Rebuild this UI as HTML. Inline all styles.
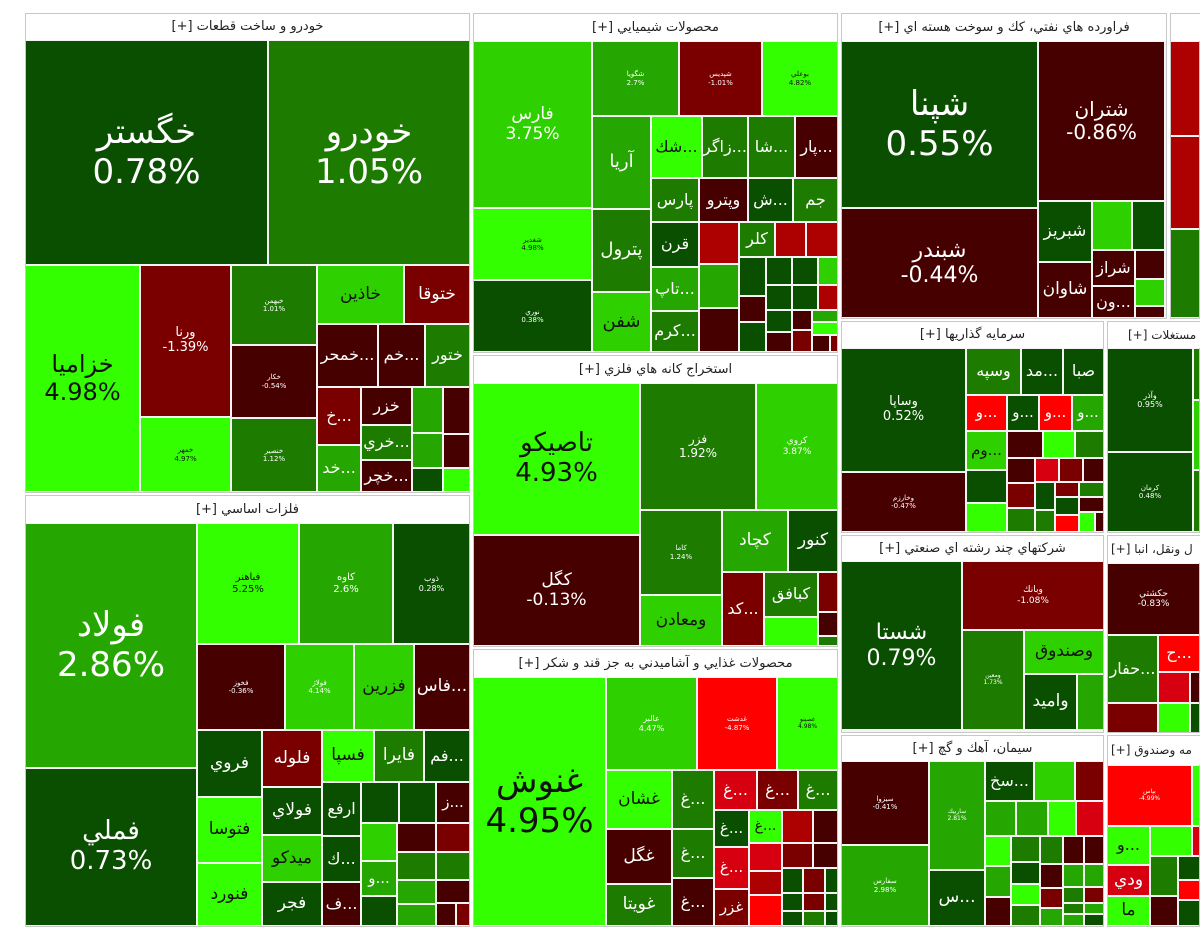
<!DOCTYPE html>
<html><head><meta charset="utf-8">
<style>
html,body{margin:0;padding:0;background:#fff;}
body{width:1200px;height:948px;position:relative;overflow:hidden;font-family:"DejaVu Sans","Liberation Sans","Noto Sans CJK SC",sans-serif;}
#root{position:absolute;left:0;top:0;width:1200px;height:948px;overflow:hidden;}
.sec{position:absolute;background:#f4f4f4;border:1px solid #c8c8c8;box-sizing:border-box;overflow:hidden;}
.hdr{position:absolute;background:#fff;font-size:13px;color:#222;direction:rtl;white-space:nowrap;overflow:hidden;box-sizing:border-box;line-height:26px;}
.cell{position:absolute;overflow:hidden;display:flex;flex-direction:column;align-items:center;justify-content:center;text-align:center;white-space:nowrap;}
.cell span{display:block;direction:ltr;}
</style></head>
<body>
<div id="root"></div>
<script>
// ---- sector data ----
const sectorNames = ["خودرو و ساخت قطعات [+]","محصولات شيميايي [+]","فراورده هاي نفتي، كك و سوخت هسته اي [+]","","فلزات اساسي [+]","استخراج كانه هاي فلزي [+]","محصولات غذايي و آشاميدني به جز قند و شكر [+]","سرمايه گذاريها [+]","مستغلات [+]","شركتهاي چند رشته اي صنعتي [+]","ل ونقل، انبا [+]","سيمان، آهك و گچ [+]","مه وصندوق [+]"];
const sectorFrames = [[25,13,470,492],[473,13,838,352],[841,13,1167,318],[1170,13,1200,318],[25,495,470,926],[473,355,838,646],[473,649,838,926],[841,321,1104,532],[1107,321,1200,532],[841,535,1104,732],[1107,535,1200,732],[841,735,1104,926],[1107,735,1200,926]];
const headerHeights = [27,28,28,28,28,28,28,27,27,26,28,26,30];
const headerPadLeft = [0,0,0,0,0,0,0,0,20,0,3,0,3];

// ---- stock data (names, changes) + layout (boxes, label styles) ----
const tickers = [];
const changes = [];
const boxes = [];
const labelSizes = [];
function T(n,c,b,s){tickers.push(n);changes.push(c);boxes.push(b);labelSizes.push(s);}
// s: >0 name+pct, <0 name only, 0 none
// Automotive
T("خگستر",0.78,[25,40,268,265],34);T("خودرو",1.05,[268,40,470,265],34);
T("خزاميا",4.98,[25,265,140,492],24);T("ورنا",-1.39,[140,265,231,417],13);T("خمهر",4.97,[140,417,231,492],7);
T("خبهمن",1.01,[231,265,317,345],7);T("خكار",-0.54,[231,345,317,418],7);T("خنصير",1.12,[231,418,317,492],7);
T("خاذين",3.4,[317,265,404,324],-17);T("ختوقا",-1.5,[404,265,470,324],-17);
T("خمحر...",-0.5,[317,324,378,387],-16);T("خم...",-0.6,[378,324,425,387],-16);T("ختور",1.3,[425,324,470,387],-16);
T("خ...",-1.4,[317,387,361,445],-16);T("خزر",-0.6,[361,387,412,425],-16);T("خري...",1.4,[361,425,412,460],-16);T("خچر...",-0.7,[361,460,412,492],-16);T("خد...",2.5,[317,445,361,492],-16);
T("",2.4,[412,387,443,433],0);T("",-0.6,[443,387,470,434],0);T("",2.4,[412,433,443,468],0);T("",-0.6,[443,434,470,468],0);T("",0.4,[412,468,443,492],0);T("",4.8,[443,468,470,492],0);
// Chemicals
T("فارس",3.75,[473,41,592,208],17);T("شغدير",4.98,[473,208,592,280],7);T("نوري",0.38,[473,280,592,352],7);
T("شگويا",2.7,[592,41,679,116],7);T("شپديس",-1.01,[679,41,762,116],7);T("بوعلي",4.82,[762,41,838,116],7);
T("آريا",2.5,[592,116,651,209],-18);T("پترول",1.5,[592,209,651,292],-18);T("شفن",3.5,[592,292,651,352],-18);
T("شك...",4.7,[651,116,702,178],-16);T("زاگر...",1.5,[702,116,748,178],-16);T("شا...",1.5,[748,116,795,178],-16);T("پار...",-0.6,[795,116,838,178],-16);
T("پارس",1.9,[651,178,699,222],-16);T("وپترو",-0.6,[699,178,748,222],-16);T("ش...",0.4,[748,178,793,222],-16);T("جم",1.5,[793,178,838,222],-16);
T("قرن",0.4,[651,222,699,267],-16);T("تاپ...",2.4,[651,267,699,311],-16);T("كرم...",1.6,[651,311,699,352],-16);
T("",-2.5,[699,222,739,264],0);T("كلر",1.5,[739,222,775,257],-16);T("",-2.5,[775,222,806,257],0);T("",-2.5,[806,222,838,257],0);
T("",2.4,[699,264,739,308],0);T("",-0.6,[699,308,739,352],0);
T("",0.4,[739,257,766,296],0);T("",0.4,[766,257,792,285],0);T("",0.4,[792,257,818,285],0);T("",3.5,[818,257,838,285],0);
T("",-0.6,[739,296,766,322],0);T("",0.4,[739,322,766,352],0);T("",0.4,[766,285,792,310],0);T("",0.4,[792,285,818,310],0);T("",-2.5,[818,285,838,310],0);
T("",0.4,[766,310,792,332],0);T("",-0.6,[766,332,792,352],0);T("",-0.6,[792,310,812,330],0);T("",2.6,[812,310,838,322],0);T("",4.8,[812,322,838,335],0);T("",-1.4,[792,330,812,352],0);T("",-0.6,[812,335,830,352],0);T("",-1.4,[830,335,838,352],0);
// Oil
T("شپنا",0.55,[841,41,1038,208],34);T("شبندر",-0.44,[841,208,1038,318],22);T("شتران",-0.86,[1038,41,1165,201],20);
T("شبريز",0.4,[1038,201,1092,262],-17);T("شاوان",-0.6,[1038,262,1092,318],-17);T("",3.5,[1092,201,1132,250],0);T("",0.4,[1132,201,1165,250],0);
T("شراز",-0.6,[1092,250,1135,286],-16);T("",-0.6,[1135,250,1165,279],0);T("",3.5,[1135,279,1165,306],0);T("ون...",-0.6,[1092,286,1135,318],-16);T("",-0.6,[1135,306,1165,318],0);
T("",-2.5,[1170,41,1200,136],0);T("",-2.5,[1170,136,1200,229],0);T("",1.5,[1170,229,1200,318],0);
// Basic metals
T("فولاد",2.86,[25,523,197,768],34);T("فملي",0.73,[25,768,197,926],26);
T("فباهنر",5.25,[197,523,299,644],10);T("كاوه",2.6,[299,523,393,644],10);T("ذوب",0.28,[393,523,470,644],8);
T("فخوز",-0.36,[197,644,285,730],7);T("فولاژ",4.14,[285,644,354,730],7);T("فزرين",3.4,[354,644,414,730],-17);T("فاس...",-0.6,[414,644,470,730],-17);
T("فروي",0.4,[197,730,262,797],-17);T("فتوسا",4.8,[197,797,262,863],-17);T("فنورد",4.8,[197,863,262,926],-17);
T("فلوله",-1.4,[262,730,322,787],-17);T("فسپا",4.8,[322,730,374,782],-17);T("فايرا",1.5,[374,730,424,782],-17);T("فم...",0.4,[424,730,470,782],-16);
T("فولاي",0.4,[262,787,322,835],-17);T("ميدكو",3.4,[262,835,322,882],-17);T("فجر",0.4,[262,882,322,926],-17);
T("ارفع",0.4,[322,782,361,836],-16);T("ك...",0.4,[322,836,361,882],-16);T("ف...",-0.6,[322,882,361,926],-16);
T("",0.4,[361,782,399,823],0);T("",0.4,[399,782,436,823],0);T("ز...",-0.6,[436,782,470,823],-15);
T("",3.4,[361,823,397,861],0);T("",-0.6,[397,823,436,852],0);T("",-1.4,[436,823,470,852],0);
T("و...",2.4,[361,861,397,896],-15);T("",0.4,[361,896,397,926],0);
T("",1.6,[397,852,436,880],0);T("",1.6,[436,852,470,880],0);T("",2.4,[397,880,436,904],0);T("",-0.6,[436,880,470,903],0);T("",2.4,[397,904,436,926],0);T("",-0.6,[436,903,456,926],0);T("",-1.4,[456,903,470,926],0);
// Mining
T("تاصيكو",4.93,[473,383,640,535],26);T("كگل",-0.13,[473,535,640,646],17);
T("فزر",1.92,[640,383,756,510],12);T("كروي",3.87,[756,383,838,510],9);
T("كاما",1.24,[640,510,722,595],7);T("ومعادن",3.4,[640,595,722,646],-17);
T("كچاد",2.4,[722,510,788,572],-17);T("كنور",0.4,[788,510,838,572],-17);
T("كد...",-1.4,[722,572,764,646],-16);T("كبافق",1.5,[764,572,818,617],-16);T("",4.8,[764,617,818,646],0);
T("",-1.4,[818,572,838,612],0);T("",-0.6,[818,612,838,636],0);T("",1.6,[818,636,838,646],0);
// Food
T("غنوش",4.95,[473,677,606,926],34);T("عالبر",4.47,[606,677,697,770],8);T("غدشت",-4.87,[697,677,777,770],7);T("غصينو",4.98,[777,677,838,770],6);
T("غشان",4.8,[606,770,672,829],-17);T("غگل",-0.6,[606,829,672,884],-17);T("غويتا",1.5,[606,884,672,926],-17);
T("غ...",1.6,[672,770,714,829],-16);T("غ...",1.6,[672,829,714,878],-16);T("غ...",-0.6,[672,878,714,926],-16);
T("غ...",-3.5,[714,770,757,810],-16);T("غ...",-1.4,[757,770,798,810],-16);T("غ...",1.6,[798,770,838,810],-16);
T("غ...",0.4,[714,810,749,847],-15);T("غ...",-3.5,[714,847,749,889],-15);T("غزر",-1.4,[714,889,749,926],-15);
T("غ...",4.8,[749,810,782,843],-14);T("",-2.5,[782,810,813,843],0);T("",-0.6,[813,810,838,843],0);
T("",-3.5,[749,843,782,871],0);T("",-2.5,[749,871,782,895],0);T("",-4.5,[749,895,782,926],0);
T("",-1.4,[782,843,813,868],0);T("",-0.6,[813,843,838,868],0);
T("",0.4,[782,868,803,893],0);T("",-1.4,[803,868,825,893],0);T("",0.4,[825,868,838,893],0);
T("",0.4,[782,893,803,911],0);T("",-1.4,[803,893,825,911],0);T("",0.4,[825,893,838,911],0);
T("",0.4,[782,911,803,926],0);T("",1.6,[803,911,825,926],0);T("",0.4,[825,911,838,926],0);
// Investments
T("وساپا",0.52,[841,348,966,472],13);T("وخارزم",-0.47,[841,472,966,532],7);
T("وسپه",1.6,[966,348,1021,395],-16);T("مد...",0.4,[1021,348,1063,395],-16);T("صبا",0.4,[1063,348,1104,395],-16);
T("و...",-4.5,[966,395,1007,431],-15);T("و...",0.4,[1007,395,1039,431],-15);T("و...",-4.5,[1039,395,1072,431],-15);T("و...",2.4,[1072,395,1104,431],-15);
T("وم...",3.4,[966,431,1007,470],-15);T("",-0.6,[1007,431,1043,458],0);T("",4.8,[1043,431,1075,458],0);T("",1.6,[1075,431,1104,458],0);
T("",0.4,[966,470,1007,503],0);T("",4.8,[966,503,1007,532],0);
T("",-0.6,[1007,458,1035,483],0);T("",-3.5,[1035,458,1059,482],0);T("",-1.4,[1059,458,1083,482],0);T("",-0.6,[1083,458,1104,482],0);
T("",-1.4,[1007,483,1035,508],0);T("",1.6,[1007,508,1035,532],0);T("",0.4,[1035,482,1055,510],0);T("",-1.4,[1055,482,1079,497],0);T("",1.6,[1079,482,1104,497],0);
T("",0.4,[1055,497,1079,515],0);T("",-0.6,[1079,497,1104,512],0);T("",1.6,[1035,510,1055,532],0);T("",-4.5,[1055,515,1079,532],0);T("",4.8,[1079,512,1095,532],0);T("",-0.6,[1095,512,1104,532],0);
// Real estate
T("وآذر",0.95,[1107,348,1193,452],8);T("كرمان",0.48,[1107,452,1193,532],7);
T("",1.6,[1193,348,1200,400],0);T("",3.4,[1193,400,1200,470],0);T("",1.6,[1193,470,1200,532],0);
// Multi-industry
T("شستا",0.79,[841,561,962,730],22);T("وبانك",-1.08,[962,561,1104,630],9);T("ومعين",1.73,[962,630,1024,730],6);
T("وصندوق",3.4,[1024,630,1104,674],-17);T("واميد",0.4,[1024,674,1077,730],-17);T("",2.4,[1077,674,1104,730],0);
// Transport
T("حكشتي",-0.83,[1107,563,1200,635],9);T("حفار...",1.6,[1107,635,1158,703],-16);T("ح...",-4.5,[1158,635,1200,672],-16);
T("",-3.5,[1158,672,1190,703],0);T("",-0.6,[1190,672,1200,703],0);T("",-1.4,[1107,703,1158,733],0);T("",4.8,[1158,703,1190,733],0);T("",0.4,[1190,703,1200,733],0);
// Cement
T("سيزوا",-0.41,[841,761,929,845],7);T("سفارس",2.98,[841,845,929,926],7);T("ساربيك",2.81,[929,761,985,870],6);T("س...",0.4,[929,870,985,926],-17);
T("سخ...",0.4,[985,761,1034,801],-16);T("",3.4,[1034,761,1075,801],0);T("",-1.4,[1075,761,1104,801],0);
T("",2.4,[985,801,1016,836],0);T("",2.4,[1016,801,1048,836],0);T("",4.8,[1048,801,1076,836],0);T("",-3.5,[1076,801,1104,836],0);
T("",4.8,[985,836,1011,866],0);T("",1.6,[1011,836,1040,862],0);T("",1.6,[1040,836,1063,864],0);T("",-0.6,[1063,836,1084,864],0);T("",-0.6,[1084,836,1104,864],0);
T("",2.4,[985,866,1011,897],0);T("",-0.6,[985,897,1011,926],0);
T("",0.4,[1011,862,1040,884],0);T("",4.8,[1011,884,1040,905],0);T("",1.6,[1011,905,1040,926],0);
T("",-0.6,[1040,864,1063,888],0);T("",-1.4,[1040,888,1063,908],0);T("",2.4,[1040,908,1063,926],0);
T("",2.4,[1063,864,1084,887],0);T("",2.4,[1084,864,1104,887],0);T("",1.6,[1063,887,1084,903],0);T("",-1.4,[1084,887,1104,903],0);
T("",1.6,[1063,903,1084,914],0);T("",2.4,[1084,903,1104,914],0);T("",2.4,[1063,914,1084,926],0);T("",0.4,[1084,914,1104,926],0);
// Insurance
T("بپاس",-4.99,[1107,765,1192,826],6);T("",4.8,[1192,765,1200,826],0);
T("و...",4.8,[1107,826,1150,865],-16);T("",4.8,[1150,826,1192,856],0);T("",-3.5,[1192,826,1200,856],0);
T("ودي",-3.5,[1107,865,1150,896],-17);T("ما",4.8,[1107,896,1150,926],-17);
T("",1.6,[1150,856,1178,896],0);T("",-0.6,[1150,896,1178,926],0);T("",0.4,[1178,856,1200,880],0);T("",-4.5,[1178,880,1200,900],0);T("",0.4,[1178,900,1200,926],0);

// ---- color scale ----
function colorFor(c){
  if(c>=4.5) return "#33ff00";
  if(c>=3) return "#2fd000";
  if(c>=2) return "#25a600";
  if(c>=1) return "#1d7c00";
  if(c>=0) return "#0a4e00";
  if(c>-1) return "#470000";
  if(c>-2) return "#7a0000";
  if(c>-3) return "#ad0000";
  if(c>-4) return "#d60010";
  return "#ff0000";
}
function fmt(c){return (Math.round(c*100)/100)+"%";}

const root=document.getElementById('root');
sectorFrames.forEach((f,i)=>{
  const s=document.createElement('div');
  s.className='sec';
  
  
  s.style.left=f[0]+'px';s.style.top=f[1]+'px';s.style.width=(f[2]-f[0])+'px';s.style.height=(f[3]-f[1]+1)+'px';
  root.appendChild(s);
  const h=document.createElement('div');
  h.className='hdr';
  
  
  h.textContent=sectorNames[i];
  const partial=f[2]>=1200;
  h.style.left=(f[0]+1)+'px';h.style.top=(f[1]+1)+'px';
  h.style.width=(f[2]-f[0]-(partial?1:2))+'px';
  h.style.height=(headerHeights[i]-1)+'px';h.style.lineHeight=(headerHeights[i]-1)+'px';
  if(partial){h.style.textAlign='left';h.style.paddingLeft=headerPadLeft[i]+'px';h.style.fontSize='12px';}else{h.style.textAlign='center';}
  root.appendChild(h);
});
tickers.forEach((n,i)=>{
  const b=boxes[i],c=changes[i],s=labelSizes[i];
  const d=document.createElement('div');
  d.className='cell';
  
  
  const right=Math.min(b[2]-1,1200);
  d.style.left=(b[0]+1)+'px';d.style.top=(b[1]+1)+'px';
  d.style.width=Math.max(1,right-b[0]-1)+'px';d.style.height=Math.max(1,b[3]-b[1]-2)+'px';
  d.style.background=colorFor(c);
  const showPct=s>0;
  const fs=Math.abs(s);
  let dark=c>=4.5||(c>=3&&!showPct);
  d.style.color=dark?'#111':'#fff';
  if(fs>0&&n){
    const a=document.createElement('span');
    
    
    a.textContent=n;a.style.fontSize=fs+'px';a.style.lineHeight=(fs*1.15)+'px';
    d.appendChild(a);
    if(showPct){
      const p=document.createElement('span');
      
      
      p.textContent=fmt(c);p.style.fontSize=fs+'px';p.style.lineHeight=(fs*1.15)+'px';
      d.appendChild(p);
    }
  }
  root.appendChild(d);
});
</script>
</body></html>
